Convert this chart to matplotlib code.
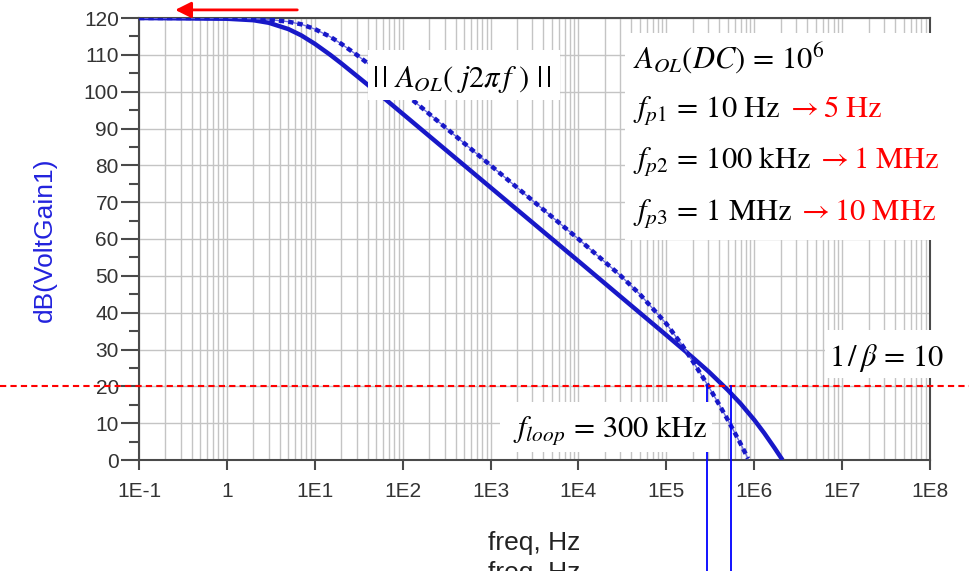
import numpy as np
import matplotlib.pyplot as plt
from matplotlib.patches import Rectangle
from matplotlib.ticker import LogLocator, NullFormatter
from matplotlib.transforms import blended_transform_factory

plt.rcParams['font.family'] = ['Liberation Sans', 'DejaVu Sans']
plt.rcParams['mathtext.fontset'] = 'stix'

# open-loop gain, original poles (10 Hz, 100 kHz, 1 MHz) -> dashed
freq_old = [0.1, 1, 2, 3, 5, 7, 10, 15, 20, 30, 50, 70, 100, 1e3, 1e4, 3e4, 5e4,
            1e5, 1.5e5, 2e5, 3e5, 4e5, 5e5, 6e5, 7e5, 8.5e5]
db_old = [120, 120, 119.8, 119.6, 119.0, 118.3, 117.0, 114.9, 113.0, 110.0, 105.9,
          103.0, 100.0, 80.0, 60.0, 50.1, 45.0, 37.0, 31.3, 26.8, 20.1, 15.0, 10.9,
          7.4, 4.4, 0.4]

# open-loop gain, moved poles (5 Hz, 1 MHz, 10 MHz) -> solid
freq_new = [0.1, 1, 2, 3, 5, 7, 10, 15, 20, 30, 50, 70, 100, 1e3, 1e4, 3e4, 1e5,
            2e5, 3e5, 5e5, 7e5, 1e6, 1.3e6, 1.7e6, 2.1e6]
db_new = [120, 119.8, 119.4, 118.7, 117.0, 115.3, 113.0, 110.0, 107.7, 104.3, 100.0,
          97.1, 94.0, 74.0, 54.0, 44.4, 33.9, 27.8, 24.1, 19.0, 15.3, 10.9, 7.3, 3.3, 0.0]

closed_loop_db = 20          # 1/beta = 10
f_loop_old = 2.9e5
f_loop_new = 5.4e5

x_ticks = [1e-1, 1, 1e1, 1e2, 1e3, 1e4, 1e5, 1e6, 1e7, 1e8]
x_labels = ['1E-1', '1', '1E1', '1E2', '1E3', '1E4', '1E5', '1E6', '1E7', '1E8']

W, H = 969, 571
fig = plt.figure(figsize=(W / 100, H / 100), dpi=100)
ax = fig.add_axes([139 / W, (H - 460) / H, (930 - 139) / W, (460 - 18) / H])

blue = '#1818c8'
ax.plot(freq_new, db_new, color=blue, lw=3.2, solid_capstyle='butt', zorder=3)
ax.plot(freq_old, db_old, color='#7070e0', lw=1.0, zorder=3)
ax.plot(freq_old, db_old, color=blue, lw=3.2, ls=(0, (1.2, 0.9)), zorder=3)

ax.set_xscale('log')
ax.set_xlim(1e-1, 1e8)
ax.set_ylim(0, 120)
ax.set_xticks(x_ticks)
ax.set_xticklabels(x_labels)
ax.set_yticks(np.arange(0, 121, 10))
ax.set_yticks(np.arange(5, 120, 10), minor=True)
ax.xaxis.set_minor_locator(LogLocator(base=10, subs=np.arange(2, 10)))
ax.xaxis.set_minor_formatter(NullFormatter())

ax.grid(True, which='major', color='#c4c4c4', lw=1.0)
ax.grid(True, which='minor', axis='x', color='#c4c4c4', lw=1.0)
ax.set_axisbelow(True)

for s in ax.spines.values():
    s.set_color('#4a4a4a')
    s.set_linewidth(1.5)
ax.tick_params(axis='y', which='major', length=13, width=1.5, color='#4a4a4a',
               labelsize=15, pad=1.5, labelcolor='#333333')
ax.tick_params(axis='y', which='minor', length=7, width=1.5, color='#4a4a4a')
ax.tick_params(axis='x', which='major', length=7, width=1.5, color='#4a4a4a',
               labelsize=15, pad=9, labelcolor='#333333')
ax.tick_params(axis='x', which='minor', length=0)

# 1/beta line across the whole figure
trans = blended_transform_factory(fig.transFigure, ax.transData)
ax.plot([0, 1], [closed_loop_db, closed_loop_db], color='red', lw=1.5,
        ls=(0, (3, 2)), transform=trans, clip_on=False, zorder=4)

# loop crossover markers going down past the axis
for f in (f_loop_old, f_loop_new):
    ax.plot([f, f], [closed_loop_db, -31], color='#0000ff', lw=1.3, clip_on=False, zorder=4)

# red arrow at the top
ax.annotate('', xy=(0.24, 122.2), xytext=(6.8, 122.2),
            arrowprops=dict(arrowstyle='-|>', color='red', lw=2, mutation_scale=24),
            annotation_clip=False)

# axis labels (as exported, with a clipped duplicate of the x label)
fig.text(45 / W, 1 - 240 / H, 'dB(VoltGain1)', rotation=90, color='#2222dd',
         fontsize=19, ha='center', va='center')
fig.text(534 / W, 1 - 550 / H, 'freq, Hz', ha='center', va='baseline', fontsize=19,
         color='#222222')
fig.text(534 / W, 1 - 580 / H, 'freq, Hz', ha='center', va='baseline', fontsize=19,
         color='#222222')


def white_box(x0, y0, x1, y1):
    fig.add_artist(Rectangle((x0 / W, 1 - y1 / H), (x1 - x0) / W, (y1 - y0) / H,
                             transform=fig.transFigure, facecolor='white',
                             edgecolor='none', zorder=2))


white_box(368, 50, 560, 100)
white_box(625, 33, 950, 240)
white_box(825, 330, 950, 378)
white_box(500, 402, 712, 452)

fs = 22
renderer = fig.canvas.get_renderer()


def put(x, y, black, red=None):
    t = fig.text(x / W, 1 - y / H, black, fontsize=fs, ha='left', va='baseline', zorder=5)
    if red:
        bb = t.get_window_extent(renderer=renderer)
        fig.text((bb.x1 + 5) / W, 1 - y / H, red, fontsize=fs, color='red',
                 ha='left', va='baseline', zorder=5)


put(372, 87, r'$|\,|\ A_{OL}(\ j2\pi\, f\ )\ |\,|$')
put(633, 68, r'$A_{OL}(DC)\,=\,10^6$')
put(633, 117, r'$f_{p1}\,=\,10\ \mathrm{Hz}$', r'$\rightarrow 5\ \mathrm{Hz}$')
put(633, 168, r'$f_{p2}\,=\,100\ \mathrm{kHz}$', r'$\rightarrow 1\ \mathrm{MHz}$')
put(633, 220, r'$f_{p3}\,=\,1\ \mathrm{MHz}$', r'$\rightarrow 10\ \mathrm{MHz}$')
put(829, 366, r'$1\,/\,\beta\,=\,10$')
put(513, 437, r'$f_{loop}\,=\,300\ \mathrm{kHz}$')

plt.savefig('out.png', dpi=100)
